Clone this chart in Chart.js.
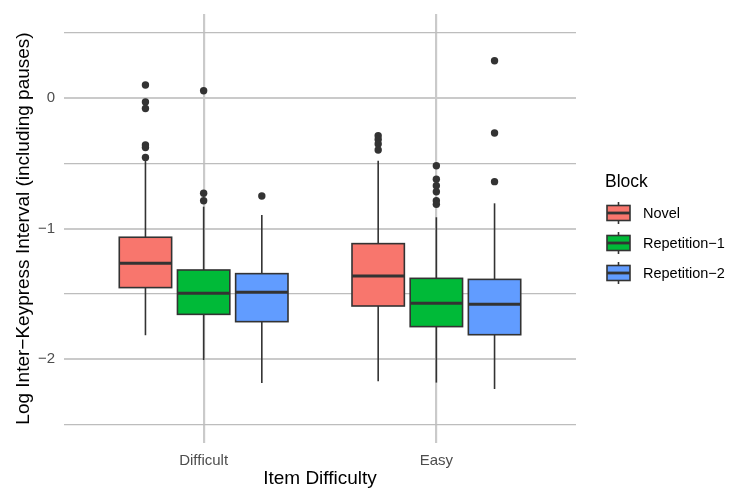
<!DOCTYPE html>
<html>
<head>
<meta charset="utf-8">
<script src="https://cdn.jsdelivr.net/npm/chart.js@4/dist/chart.umd.min.js"></script>
<style>
  html, body { margin: 0; padding: 0; background: #ffffff; }
  canvas { display: block; }
</style>
</head>
<body>
<canvas id="chart" width="730" height="490"></canvas>
<script>
// Categories on the x axis and the grouping variable
const difficulty = ['Difficult', 'Easy'];
const blocks = ['Novel', 'Repetition\u22121', 'Repetition\u22122'];

// Box statistics: one row per block, one value per difficulty level
const whiskerLow  = [[-1.818, -2.171], [-2.008, -2.181], [-2.184, -2.230]];
const lowerQuart  = [[-1.453, -1.594], [-1.658, -1.752], [-1.714, -1.814]];
const medians     = [[-1.267, -1.364], [-1.497, -1.573], [-1.489, -1.581]];
const upperQuart  = [[-1.067, -1.116], [-1.318, -1.382], [-1.346, -1.390]];
const whiskerHigh = [[-0.475, -0.480], [-0.833, -0.914], [-0.897, -0.807]];

// Outlying observations beyond the whiskers
const outliers = [
  [[0.100, -0.030, -0.080, -0.360, -0.380, -0.455], [-0.289, -0.317, -0.352, -0.398]],
  [[0.056, -0.730, -0.787], [-0.519, -0.623, -0.672, -0.718, -0.787, -0.815]],
  [[-0.751], [0.286, -0.268, -0.641]]
];

// Axis tick values (gridlines every half unit, labels on whole units)
const yTickValues = [-2.5, -2, -1.5, -1, -0.5, 0, 0.5];
const xTickValues = [1, 2];

const fillColors = ['#F8766D', '#00BA38', '#619CFF'];
const ink = '#333333';
const dodge = 0.25;          // spacing between blocks inside a group
const boxWidth = 0.9 * dodge;
const FONT = '"Liberation Sans", Arial, Helvetica, sans-serif';

const xPos = (bi, gi) => gi + 1 + (bi - 1) * dodge;
const minus = s => String(s).replace('-', '\u2212');

function strokeLine(ctx, x1, y1, x2, y2) {
  ctx.beginPath();
  ctx.moveTo(x1, y1);
  ctx.lineTo(x2, y2);
  ctx.stroke();
}

// Draws boxes, whiskers and medians from the scales
const boxPlugin = {
  id: 'boxes',
  beforeDatasetsDraw(chart) {
    const { ctx, scales: { x, y } } = chart;
    const half = (x.getPixelForValue(boxWidth) - x.getPixelForValue(0)) / 2;
    ctx.save();
    ctx.strokeStyle = ink;
    blocks.forEach((b, bi) => {
      difficulty.forEach((d, gi) => {
        const cx = x.getPixelForValue(xPos(bi, gi));
        const yLo = y.getPixelForValue(whiskerLow[bi][gi]);
        const yQ1 = y.getPixelForValue(lowerQuart[bi][gi]);
        const yMd = y.getPixelForValue(medians[bi][gi]);
        const yQ3 = y.getPixelForValue(upperQuart[bi][gi]);
        const yHi = y.getPixelForValue(whiskerHigh[bi][gi]);
        ctx.lineWidth = 1.6;
        strokeLine(ctx, cx, yHi, cx, yQ3);
        strokeLine(ctx, cx, yQ1, cx, yLo);
        ctx.fillStyle = fillColors[bi];
        ctx.fillRect(cx - half, yQ3, 2 * half, yQ1 - yQ3);
        ctx.strokeRect(cx - half, yQ3, 2 * half, yQ1 - yQ3);
        ctx.lineWidth = 3;
        strokeLine(ctx, cx - half, yMd, cx + half, yMd);
      });
    });
    ctx.restore();
  }
};

// Legend with small boxplot keys
const legendPlugin = {
  id: 'boxLegend',
  afterDraw(chart) {
    const ctx = chart.ctx;
    ctx.save();
    ctx.fillStyle = '#000000';
    ctx.font = '17.5px ' + FONT;
    ctx.textBaseline = 'middle';
    ctx.textAlign = 'left';
    ctx.fillText('Block', 605, 182);
    blocks.forEach((b, bi) => {
      const cy = 213 + bi * 30;
      const kx = 607, kw = 23, kh = 15;
      ctx.strokeStyle = ink;
      ctx.lineWidth = 1.6;
      strokeLine(ctx, kx + kw / 2, cy - 11, kx + kw / 2, cy + 11);
      ctx.fillStyle = fillColors[bi];
      ctx.fillRect(kx, cy - kh / 2, kw, kh);
      ctx.strokeRect(kx, cy - kh / 2, kw, kh);
      ctx.lineWidth = 2.8;
      strokeLine(ctx, kx, cy, kx + kw, cy);
      ctx.fillStyle = '#000000';
      ctx.font = '14.5px ' + FONT;
      ctx.fillText(b, 643, cy + 1);
    });
    ctx.restore();
  }
};

const datasets = blocks.map((b, bi) => ({
  label: b,
  data: difficulty.flatMap((d, gi) => outliers[bi][gi].map(v => ({ x: xPos(bi, gi), y: v }))),
  pointRadius: 3.7,
  pointHoverRadius: 3.7,
  pointBackgroundColor: ink,
  pointBorderWidth: 0,
  showLine: false
}));

new Chart(document.getElementById('chart'), {
  type: 'scatter',
  data: { datasets },
  plugins: [boxPlugin, legendPlugin],
  options: {
    responsive: false,
    animation: false,
    devicePixelRatio: 1,
    layout: { padding: { left: 0, right: 154, top: 14, bottom: 0 } },
    plugins: { legend: { display: false }, tooltip: { enabled: false } },
    scales: {
      x: {
        type: 'linear',
        min: 0.4,
        max: 2.6,
        afterBuildTicks: s => { s.ticks = xTickValues.map(v => ({ value: v })); },
        afterFit: s => { s.height = 47; s.paddingLeft = 0; s.paddingRight = 0; },
        border: { display: false },
        grid: { color: '#cacaca', lineWidth: 2.2, drawTicks: false },
        ticks: {
          callback: v => difficulty[v - 1],
          color: '#4D4D4D',
          font: { family: FONT, size: 15 },
          padding: 9,
          maxRotation: 0,
          autoSkip: false
        },
        title: {
          display: true,
          text: 'Item Difficulty',
          color: '#000000',
          font: { family: FONT, size: 19 },
          padding: { top: 0, bottom: 0 }
        }
      },
      y: {
        type: 'linear',
        min: -2.644,
        max: 0.644,
        afterBuildTicks: s => { s.ticks = yTickValues.map(v => ({ value: v })); },
        afterFit: s => { s.width = 64; s.paddingTop = 0; s.paddingBottom = 0; },
        border: { display: false },
        grid: {
          color: c => Number.isInteger(c.tick.value) ? '#cacaca' : '#bdbdbd',
          lineWidth: c => Number.isInteger(c.tick.value) ? 2 : 1.3,
          drawTicks: false
        },
        ticks: {
          callback: v => Number.isInteger(v) ? minus(v) : '',
          color: '#4D4D4D',
          font: { family: FONT, size: 15 },
          padding: 9,
          autoSkip: false
        },
        title: {
          display: true,
          text: 'Log Inter\u2212Keypress Interval (including pauses)',
          color: '#000000',
          font: { family: FONT, size: 19 },
          padding: { top: 12, bottom: 0 }
        }
      }
    }
  }
});
</script>
</body>
</html>
